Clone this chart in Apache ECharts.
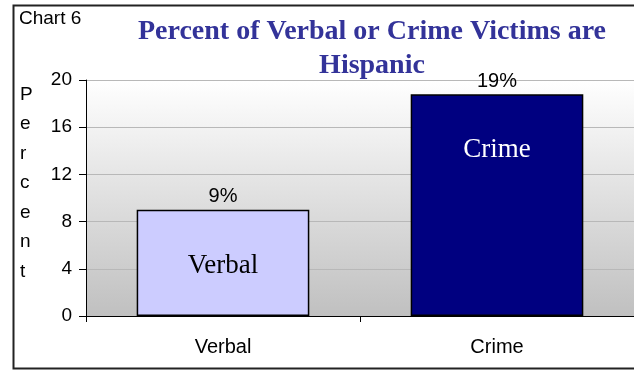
<!DOCTYPE html>
<html><head><meta charset="utf-8">
<script src="https://cdn.jsdelivr.net/npm/echarts@6/dist/echarts.min.js"></script>
<style>html,body{margin:0;padding:0;background:#fff}#c{width:634px;height:371px}</style>
</head><body><div id="c"></div>
<script>
var categories = ['Verbal', 'Crime'];
var values = [9, 18.8];
var valueLabels = ['9%', '19%'];
var innerLabels = ['Verbal', 'Crime'];
var yTicks = [0, 4, 8, 12, 16, 20];
var colors = ['#ccccff', '#000080'];
var innerColors = ['#000000', '#ffffff'];

var chart = echarts.init(document.getElementById('c'), null, {renderer: 'canvas'});
chart.setOption({
  animation: false,
  backgroundColor: '#ffffff',
  title: {
    text: 'Percent of Verbal or Crime Victims are\nHispanic',
    left: 367, top: 10, textAlign: 'center',
    textStyle: {fontFamily: 'Liberation Serif', fontWeight: 'bold', fontSize: 28, color: '#333399', lineHeight: 34}
  },
  grid: {
    left: 86, top: 80, width: 552, height: 236, show: true, borderWidth: 0,
    backgroundColor: {type: 'linear', x: 0, y: 0, x2: 0, y2: 1,
      colorStops: [{offset: 0, color: '#ffffff'}, {offset: 1, color: '#c0c0c0'}]}
  },
  xAxis: {
    type: 'category', data: categories,
    axisLine: {lineStyle: {color: '#000', width: 1}},
    axisTick: {show: true, length: 6, lineStyle: {color: '#000'}},
    axisLabel: {fontFamily: 'Arial, Liberation Sans', fontSize: 20, color: '#000', margin: 21}
  },
  yAxis: {
    type: 'value', min: yTicks[0], max: yTicks[yTicks.length - 1], interval: 4,
    axisLine: {show: true, lineStyle: {color: '#000', width: 1}},
    axisTick: {show: true, length: 7, lineStyle: {color: '#000'}},
    splitLine: {lineStyle: {color: '#b8b8b8', width: 1}},
    axisLabel: {fontFamily: 'Arial, Liberation Sans', fontSize: 19, color: '#000', margin: 14}
  },
  graphic: [
    {type: 'rect', shape: {x: 13.5, y: 5.5, width: 640, height: 363}, style: {fill: 'none', stroke: '#222', lineWidth: 2}, z: 100},
    {type: 'text', left: 19, top: 9, style: {text: 'Chart 6', font: '19px Arial, "Liberation Sans"', fill: '#000'}},
    {type: 'text', left: 20, top: 80, style: {text: 'P\ne\nr\nc\ne\nn\nt', font: '19px Arial, "Liberation Sans"', fill: '#000', lineHeight: 29.5}}
  ],
  series: [{
    type: 'bar', barWidth: '63%',
    data: values.map(function (v, i) {
      return {value: v, itemStyle: {color: colors[i], borderColor: '#000', borderWidth: 1.5}};
    }),
    label: {
      show: true, position: 'top', distance: 3,
      fontFamily: 'Arial, Liberation Sans', fontSize: 20, color: '#000',
      formatter: function (p) { return valueLabels[p.dataIndex]; }
    },
    z: 2
  }, {
    type: 'bar', barWidth: '63%', barGap: '-100%',
    data: values.map(function (v, i) {
      return {
        value: v, itemStyle: {color: 'rgba(0,0,0,0)'},
        label: i === 0 ? {position: 'inside', offset: [0, 3], color: innerColors[i]} : {position: ['50%', 56], align: 'center', verticalAlign: 'middle', color: innerColors[i]}
      };
    }),
    label: {
      show: true, fontFamily: 'Liberation Serif', fontSize: 27,
      formatter: function (p) { return innerLabels[p.dataIndex]; }
    },
    silent: true, z: 3
  }]
});
</script></body></html>
